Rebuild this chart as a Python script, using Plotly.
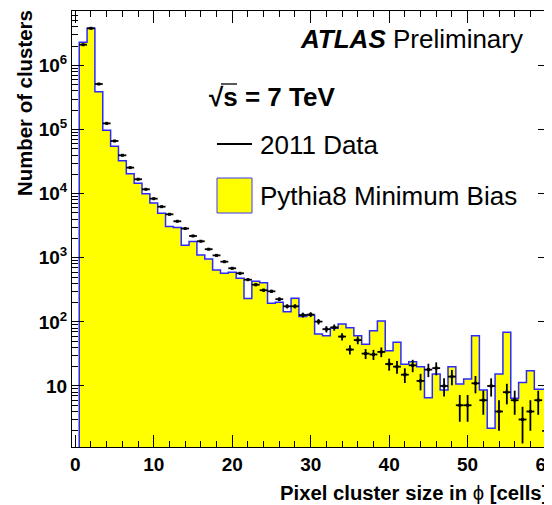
import numpy as np
import plotly.graph_objects as go

# ---------------- data ----------------
cluster_size = list(range(1, 61))  # bin centres (cells)

pythia8_mb = [2.30e6, 3.80e6, 3.90e5, 9.75e4, 5.49e4, 3.27e4, 2.05e4, 1.45e4, 1.00e4, 7.16e3,
              4.94e3, 3.08e3, 2.97e3, 1.57e3, 1.80e3, 1.11e3, 958, 645, 573, 594,
              479, 232, 431, 407, 195, 202, 144, 233, 121, 128,
              64.7, 60.9, 79.4, 92.7, 81.2, 60.9, 44.8, 72.9, 103, 35.6,
              48.1, 21.9, 23.9, 20.0, 6.56, 15.4, 8.67, 20.0, 10.7, 12.9,
              60.9, 8.67, 2.19, 15.4, 68.8, 6.42, 11.3, 17.3, 8.89, 8.89]

data_2011 = [2.11e6, 3.80e6, 5.14e5, 1.25e5, 6.64e4, 3.97e4, 2.55e4, 1.68e4, 1.17e4, 8.36e3,
             6.27e3, 4.77e3, 3.71e3, 2.86e3, 2.19e3, 1.81e3, 1.36e3, 1.09e3, 869, 686,
             573, 455, 380, 312, 300, 226, 175, 175, 128, 130,
             101, 77, 82, 59, 37, 52, 32, 31, 34, 22,
             20, 15, 21, 12, 18, 19, 10, 14, 5, 5,
             11, 6, 10, 4, 8, 6, 3, 4, 6, 2]

x_tick_vals = [0, 10, 20, 30, 40, 50, 60]
y_tick_vals = [10, 100, 1e3, 1e4, 1e5, 1e6]
y_tick_text = ["<b>10</b>", "<b>10<sup>2</sup></b>", "<b>10<sup>3</sup></b>",
               "<b>10<sup>4</sup></b>", "<b>10<sup>5</sup></b>", "<b>10<sup>6</sup></b>"]

# ---------------- geometry helpers (page pixels; page body has an 8px margin) ----------------
OFF = 8
W, H = 552 - OFF, 505 - OFF
L, R, T, B = 72, 550, 11, 447   # plot frame in page pixels


def px(xp):
    return (xp - L) / (R - L)


def py(yp):
    return (B - yp) / (B - T)


FONT = "Liberation Sans, Arial, Helvetica, sans-serif"

# ---------------- histogram as step outline ----------------
edges = [c - 0.5 for c in cluster_size] + [cluster_size[-1] + 0.5]
floor = 0.3
step_x = [edges[0]] + edges[:-1] + [edges[-1], edges[-1]]
step_y = [floor] + pythia8_mb + [pythia8_mb[-1], floor]

fig = go.Figure()
fig.add_trace(go.Scatter(
    x=step_x, y=step_y, mode="lines", line=dict(shape="hv", color="#2a2aff", width=1.5),
    fill="toself", fillcolor="#ffff00", hoverinfo="skip", showlegend=False))

fig.add_trace(go.Scatter(
    x=cluster_size, y=data_2011, mode="markers",
    marker=dict(color="black", size=3, symbol="square"),
    error_y=dict(type="data", array=list(np.sqrt(data_2011)), color="black", thickness=1.8, width=0),
    error_x=dict(type="constant", value=0.5, color="black", thickness=1.8, width=0),
    showlegend=False))

minor_y = [m * 10 ** d for d in range(0, 7) for m in range(2, 10)]

fig.update_xaxes(
    range=[-0.42, 60.5], showgrid=False, zeroline=False, automargin=False,
    showline=True, linecolor="black", linewidth=1, mirror="ticks",
    ticks="inside", ticklen=12, tickwidth=1, tickcolor="black",
    tickvals=x_tick_vals, ticktext=[f"<b>{v}</b>" for v in x_tick_vals],
    tickfont=dict(family=FONT, size=19, color="black"), ticklabeloverflow="allow",
    minor=dict(ticks="inside", ticklen=6, tickwidth=1, tickcolor="black", dtick=2, tick0=0, showgrid=False),
)
fig.update_yaxes(
    type="log", range=[0.048, 6.85], showgrid=False, zeroline=False, automargin=False,
    showline=True, linecolor="black", linewidth=1, mirror="ticks",
    ticks="inside", ticklen=12, tickwidth=1, tickcolor="black",
    tickvals=y_tick_vals, ticktext=y_tick_text,
    tickfont=dict(family=FONT, size=19, color="black"), ticklabeloverflow="allow",
    minor=dict(ticks="inside", ticklen=6, tickwidth=1, tickcolor="black",
               tickmode="array", tickvals=minor_y, showgrid=False),
)

annotations = [
    dict(text="<b><i>ATLAS</i></b> Preliminary", x=px(525), y=py(39), xanchor="right", yanchor="middle",
         font=dict(family=FONT, size=26, color="black")),
    dict(text="<b>\u221as = 7 TeV</b>", x=px(207), y=py(97),
         xanchor="left", yanchor="middle", font=dict(family=FONT, size=26, color="black")),
    dict(text="2011 Data", x=px(258), y=py(145), xanchor="left", yanchor="middle",
         font=dict(family=FONT, size=26, color="black")),
    dict(text="Pythia8 Minimum Bias", x=px(258), y=py(196), xanchor="left", yanchor="middle",
         font=dict(family=FONT, size=26, color="black")),
    dict(text="<b>Number of clusters</b>", x=px(25), y=py(103), xanchor="center", yanchor="middle",
         textangle=-90, font=dict(family=FONT, size=20.4, color="black")),
    dict(text="<b>Pixel cluster size in</b> \u03d5 <b>[cells]</b>", x=px(550), y=py(493),
         xanchor="right", yanchor="middle", font=dict(family=FONT, size=20.3, color="black")),
]
for a in annotations:
    a.update(xref="paper", yref="paper", showarrow=False)

shapes = [
    dict(type="line", x0=px(217), x1=px(252), y0=py(144), y1=py(144), xref="paper", yref="paper",
         line=dict(color="black", width=2)),
    dict(type="rect", x0=px(217), x1=px(252), y0=py(178), y1=py(213), xref="paper", yref="paper",
         fillcolor="#ffff00", line=dict(color="#3a3aff", width=1)),
    # overline of the square-root sign
    dict(type="line", x0=px(221), x1=px(237), y0=py(84), y1=py(84), xref="paper", yref="paper",
         line=dict(color="black", width=1.3)),
]

fig.update_layout(
    width=W, height=H,
    margin=dict(l=L - OFF, r=W - (R - OFF), t=T - OFF, b=H - (B - OFF)),
    paper_bgcolor="white", plot_bgcolor="white",
    font=dict(family=FONT, color="black"),
    annotations=annotations, shapes=shapes, showlegend=False,
)

fig.write_html("out.html")
